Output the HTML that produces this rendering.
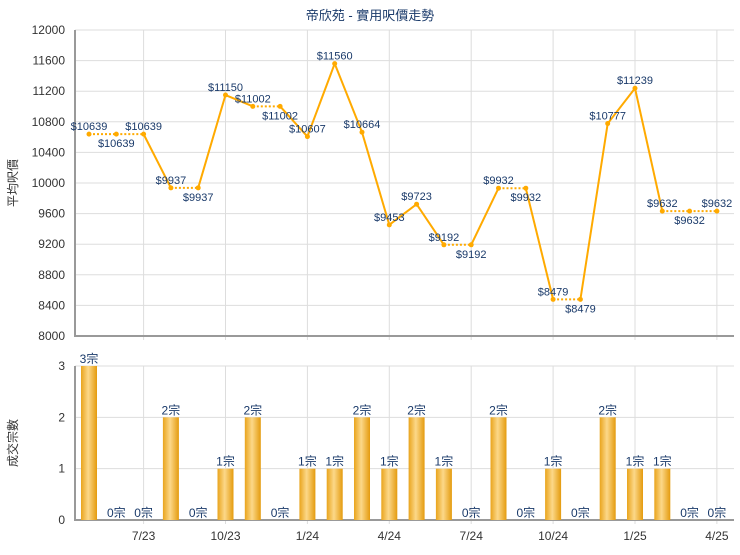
<!DOCTYPE html>
<html><head><meta charset="utf-8"><style>
body{margin:0;background:#fff;font-family:"Liberation Sans","Noto Sans CJK TC",sans-serif}
</style></head><body>
<svg id="c" width="740" height="550" xmlns="http://www.w3.org/2000/svg" style="font-family:'Liberation Sans','Noto Sans CJK TC',sans-serif">
<defs><linearGradient id="bg" x1="0" x2="1"><stop offset="0" stop-color="#e9a41c"/><stop offset="0.45" stop-color="#fcd889"/><stop offset="1" stop-color="#e49b0e"/></linearGradient></defs>
<text x="370" y="20" text-anchor="middle" font-size="13" fill="#1a3a6a">帝欣苑 - 實用呎價走勢</text>
<text transform="translate(17,183) rotate(-90)" text-anchor="middle" font-size="12" fill="#333">平均呎價</text>
<text transform="translate(17,443) rotate(-90)" text-anchor="middle" font-size="12" fill="#333">成交宗數</text>
<g id="g"></g>
</svg>
<script>
const labels=['7/23','10/23','1/24','4/24','7/24','10/24','1/25','4/25'];
const labelIdx=[2,5,8,11,14,17,20,23];
const prices=[10639,10639,10639,9937,9937,11150,11002,11002,10607,11560,10664,9453,9723,9192,9192,9932,9932,8479,8479,10777,11239,9632,9632,9632];
const counts=[3,0,0,2,0,1,2,0,1,1,2,1,2,1,0,2,0,1,0,2,1,1,0,0];
const priceTicks=[8000,8400,8800,9200,9600,10000,10400,10800,11200,11600,12000];
const countTicks=[0,1,2,3];
const NS='http://www.w3.org/2000/svg';
const g=document.getElementById('g');
function el(t,a,txt){const e=document.createElementNS(NS,t);for(const k in a)e.setAttribute(k,a[k]);if(txt!=null)e.textContent=txt;g.appendChild(e);return e;}
const L=75,R=734,T1=30,B1=336,T2=366,B2=520;
const xp=i=>89+i*27.3;
const yp=v=>B1-(v-8000)/4000*(B1-T1);
const yc=v=>B2-v/3*(B2-T2);
priceTicks.forEach(v=>{const l=el('line',{x1:L,x2:R,y1:yp(v),y2:yp(v),stroke:'#ddd'});
const t=el('text',{x:L-10,y:yp(v)+4,'text-anchor':'end','font-size':12,fill:'#333'},v);});
countTicks.forEach(v=>{const l=el('line',{x1:L,x2:R,y1:yc(v),y2:yc(v),stroke:'#ddd'});
const t=el('text',{x:L-10,y:yc(v)+4,'text-anchor':'end','font-size':12,fill:'#333'},v);});
labelIdx.forEach((i,k)=>{[[T1,B1],[T2,B2]].forEach(([a,b])=>{const l=el('line',{x1:xp(i),x2:xp(i),y1:a,y2:b+4,stroke:'#ddd'});});
const t=el('text',{x:xp(i),y:540,'text-anchor':'middle','font-size':12,fill:'#333'},labels[k]);});
[[T1,B1],[T2,B2]].forEach(([a,b])=>{const ax=el('path',{d:`M${L},${a}V${b}H${R}`,stroke:'#999','stroke-width':2,fill:'none'});});
counts.forEach((c,i)=>{if(c>0){const b=el('rect',{x:xp(i)-8,y:yc(c),width:16,height:B2-yc(c),fill:'url(#bg)'});}
const t=el('text',{x:xp(i),y:yc(c)-3,'text-anchor':'middle','font-size':12,fill:'#1a3a6a'},c+'宗');});
for(let i=0;i<prices.length-1;i++){const eq=prices[i]===prices[i+1];const s=el('line',{x1:xp(i),y1:yp(prices[i]),x2:xp(i+1),y2:yp(prices[i+1]),stroke:'#ffaa00','stroke-width':2,'stroke-dasharray':eq?'2,2':'none'});}
let run=0;
prices.forEach((p,i)=>{run=(i>0&&prices[i-1]===p)?run+1:0;
const d=el('circle',{cx:xp(i),cy:yp(p),r:2.5,fill:'#ffaa00'});
const below=run%2===1;const t=el('text',{x:xp(i),y:below?yp(p)+13:yp(p)-4,'text-anchor':'middle','font-size':11,fill:'#1a3a6a'},'$'+p);});
</script>
</body></html>
